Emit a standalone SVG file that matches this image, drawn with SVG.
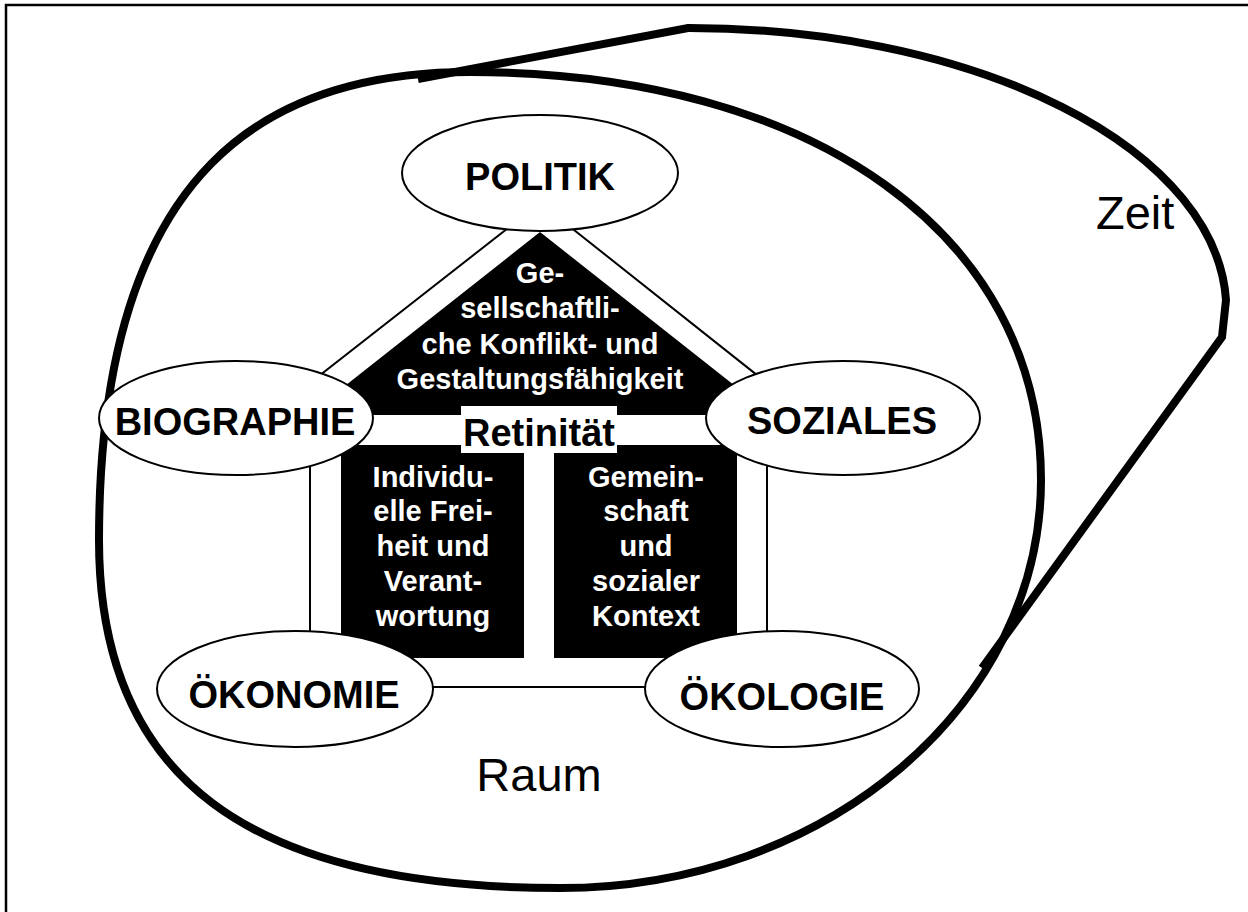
<svg xmlns="http://www.w3.org/2000/svg" width="1248" height="912" viewBox="0 0 1248 912">
<style>
.lbl{font-family:"Liberation Sans",Arial,sans-serif;font-weight:bold;font-size:38px;text-anchor:middle;fill:#000}
.wt{font-family:"Liberation Sans",Arial,sans-serif;font-weight:bold;font-size:29px;text-anchor:middle;fill:#fff}
.big{font-family:"Liberation Sans",Arial,sans-serif;font-size:47px;fill:#000}
.node{fill:#fff;stroke:#000;stroke-width:2}
.conn{fill:none;stroke:#000;stroke-width:2}
.thick{fill:none;stroke:#000;stroke-width:8;stroke-linejoin:miter}
</style>
<rect width="1248" height="912" fill="#fff"/>
<rect x="6" y="5" width="1300" height="1000" fill="none" stroke="#000" stroke-width="2.5"/>
<g id="raum">
<path class="thick" d="M470 72 C813 72 1041 235 1041 480 C1041 705 826 888 560 888 C247 888 99 777 99 540 C99 160 275 72 470 72 Z"/>
<text class="big" x="539" y="791" text-anchor="middle">Raum</text>
</g>
<g id="zeit">
<path class="thick" d="M418 79 L688 28 A537 282 0 0 1 1226 300 L1222 337 L982 668"/>
<text class="big" x="1096" y="229">Zeit</text>
</g>
<g id="connectors">
<path class="conn" d="M310 687 L310 383 L540 203 L767 383 L767 687 Z"/>
</g>
<g id="gesellschaft">
<polygon points="540,232 772,415 308,415" fill="#000"/>
<text class="wt" x="540" y="283">Ge-</text>
<text class="wt" x="540" y="318">sellschaftli-</text>
<text class="wt" x="540" y="354">che Konflikt- und</text>
<text class="wt" x="540" y="389">Gestaltungsfähigkeit</text>
</g>
<g id="individuell">
<rect x="341" y="445" width="183" height="213" fill="#000"/>
<text class="wt" x="433" y="487">Individu-</text>
<text class="wt" x="433" y="521">elle Frei-</text>
<text class="wt" x="433" y="556">heit und</text>
<text class="wt" x="433" y="591">Verant-</text>
<text class="wt" x="433" y="626">wortung</text>
</g>
<g id="gemeinschaft">
<rect x="554" y="445" width="183" height="213" fill="#000"/>
<text class="wt" x="646" y="487">Gemein-</text>
<text class="wt" x="646" y="521">schaft</text>
<text class="wt" x="646" y="556">und</text>
<text class="wt" x="646" y="591">sozialer</text>
<text class="wt" x="646" y="626">Kontext</text>
</g>
<g id="retinitaet">
<rect x="461" y="406" width="156" height="47" fill="#fff"/>
<text class="lbl" x="539" y="446">Retinität</text>
</g>
<g id="politik">
<ellipse class="node" cx="540" cy="173" rx="138" ry="58"/>
<text class="lbl" x="540" y="190">POLITIK</text>
</g>
<g id="biographie">
<ellipse class="node" cx="236" cy="418" rx="137" ry="57"/>
<text class="lbl" x="235" y="435">BIOGRAPHIE</text>
</g>
<g id="soziales">
<ellipse class="node" cx="843" cy="418" rx="137" ry="57"/>
<text class="lbl" x="842" y="434">SOZIALES</text>
</g>
<g id="oekonomie">
<ellipse class="node" cx="295" cy="689" rx="138" ry="58"/>
<text class="lbl" x="294" y="708">ÖKONOMIE</text>
</g>
<g id="oekologie">
<ellipse class="node" cx="782" cy="689" rx="137" ry="58"/>
<text class="lbl" x="782" y="710">ÖKOLOGIE</text>
</g>
</svg>
